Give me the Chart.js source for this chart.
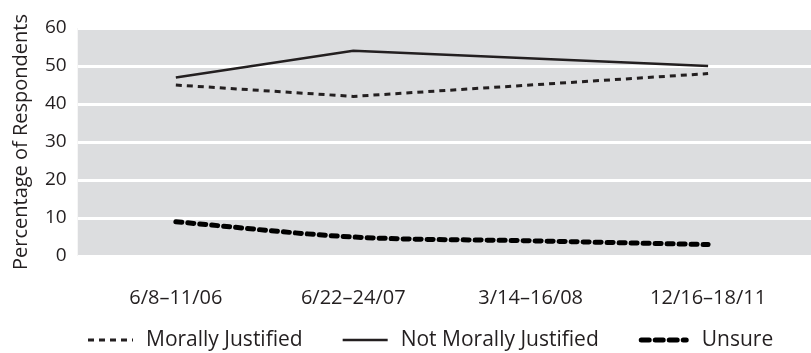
<!DOCTYPE html>
<html>
<head>
<meta charset="utf-8">
<script src="https://cdn.jsdelivr.net/npm/chart.js@4.4.1/dist/chart.umd.min.js"></script>
<style>
  html, body { margin: 0; padding: 0; background: #fff; }
  #wrap { width: 811px; height: 353px; }
</style>
</head>
<body>
<div id="wrap"><canvas id="chart" width="811" height="353"></canvas></div>
<script>
// poll dates
const periods = ["6/8\u201311/06", "6/22\u201324/07", "3/14\u201316/08", "12/16\u201318/11"];
// percent of respondents (null = no reading, line goes straight through)
const morallyJustified = [45, 42, null, 48];
const notMorallyJustified = [47, 54, null, 50];
const unsure = [9, 5, 4, 3];
const yTicks = [0, 10, 20, 30, 40, 50, 60];

const ink = "#231f20";
const FONT = "'Open Sans', 'Noto Sans', sans-serif";

const toPoints = (arr) => arr.map((v, i) => ({ x: i, y: v }));

// grey plot background, drawn before the grid
const plotBg = {
  id: "plotBg",
  beforeDraw(chart) {
    const { ctx, chartArea } = chart;
    ctx.save();
    ctx.fillStyle = "#dcdddf";
    ctx.fillRect(chartArea.left, chartArea.top, chartArea.right - chartArea.left, chartArea.bottom - chartArea.top);
    ctx.restore();
  },
};

// bottom legend with the dataset line styles (built-in one drops the dash)
const lineLegend = {
  id: "lineLegend",
  afterDraw(chart) {
    const ctx = chart.ctx;
    const y = 340;
    let x = 88;
    ctx.save();
    ctx.font = "21px " + FONT;
    ctx.textBaseline = "middle";
    ctx.fillStyle = ink;
    chart.data.datasets.forEach((ds) => {
      const len = ds.borderCapStyle === "round" ? 50 : 45;
      ctx.beginPath();
      ctx.strokeStyle = ds.borderColor;
      ctx.lineWidth = ds.borderWidth;
      ctx.lineCap = ds.borderCapStyle || "butt";
      ctx.setLineDash(ds.borderCapStyle === "round" ? [8, 6] : (ds.borderDash || []));
      const r = ctx.lineCap === "round" ? ds.borderWidth / 2 : 0;
      ctx.moveTo(x + r, y);
      ctx.lineTo(x + len - r, y);
      ctx.stroke();
      ctx.setLineDash([]);
      ctx.fillText(ds.label, x + len + 13, y);
      x += len + 13 + ctx.measureText(ds.label).width + 40;
    });
    ctx.restore();
  },
};

new Chart(document.getElementById("chart"), {
  type: "line",
  data: {
    datasets: [
      {
        label: "Morally Justified",
        data: toPoints(morallyJustified),
        borderColor: ink,
        borderWidth: 3,
        borderDash: [6, 5],
        pointRadius: 0,
        spanGaps: true,
        tension: 0,
      },
      {
        label: "Not Morally Justified",
        data: toPoints(notMorallyJustified),
        borderColor: ink,
        borderWidth: 2.5,
        pointRadius: 0,
        spanGaps: true,
        tension: 0,
      },
      {
        label: "Unsure",
        data: toPoints(unsure),
        borderColor: "#000",
        borderWidth: 5,
        borderDash: [6, 6],
        borderCapStyle: "round",
        pointRadius: 0,
        cubicInterpolationMode: "monotone",
      },
    ],
  },
  options: {
    responsive: false,
    animation: false,
    layout: { padding: { top: 28, right: 0, bottom: 13, left: 0 } },
    plugins: {
      tooltip: { enabled: false },
      legend: { display: false },
    },
    scales: {
      x: {
        type: "linear",
        min: -0.553,
        max: 3.58,
        grid: { display: false, drawTicks: false },
        border: { display: false },
        afterBuildTicks: (axis) => {
          axis.ticks = periods.map((_, i) => ({ value: i }));
        },
        ticks: {
          padding: 30,
          color: ink,
          font: { family: FONT, size: 20 },
          callback: (v) => periods[v],
          maxRotation: 0,
        },
      },
      y: {
        min: 0,
        max: 60,
        afterBuildTicks: (axis) => {
          axis.ticks = yTicks.map((v) => ({ value: v }));
        },
        grid: { color: "#fff", lineWidth: 3, drawTicks: false },
        border: { display: false },
        ticks: {
          padding: 11,
          color: ink,
          font: { family: FONT, size: 19 },
        },
        title: {
          display: true,
          text: "Percentage of Respondents",
          color: ink,
          padding: { top: 9, bottom: 1 },
          font: { family: FONT, size: 20 },
        },
      },
    },
  },
  plugins: [plotBg, lineLegend],
});
</script>
</body>
</html>
